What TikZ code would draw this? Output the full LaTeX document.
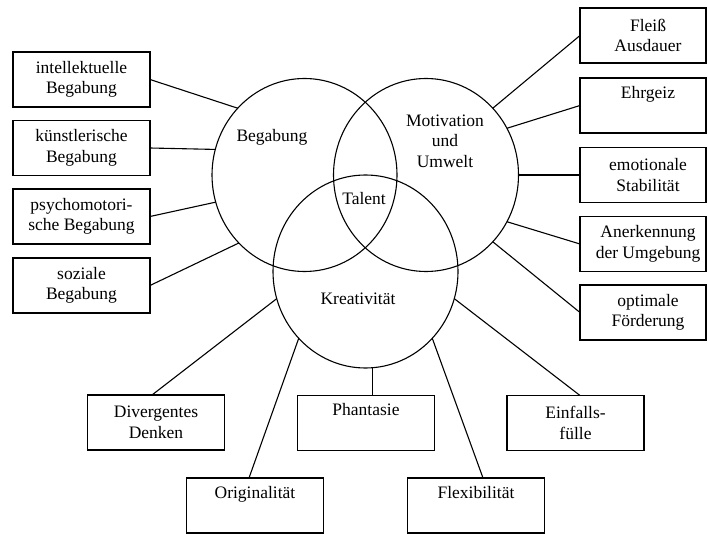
\documentclass[tikz,border=0pt]{standalone}
\usepackage{fontspec}
\setmainfont{Liberation Serif}
\usetikzlibrary{shapes.geometric}

\tikzset{
  txt/.style={font=\fontsize{17.5}{20.5}\selectfont, align=center, inner sep=0pt},
  sbox/.style={draw, line width=1.1pt, minimum width=137pt, minimum height=55pt,
               inner sep=0pt, outer sep=0pt, txt},
  rbox/.style={draw, line width=1.1pt, minimum width=126pt, minimum height=55pt,
               inner sep=0pt, outer sep=0pt},
  ring/.style={draw, line width=1.1pt, ellipse, minimum width=185pt,
               minimum height=193pt, inner sep=0pt, outer sep=0pt},
  link/.style={line width=1.1pt}
}

\begin{document}
\begin{tikzpicture}[x=1pt, y=-1pt]
  \useasboundingbox (0,0) rectangle (708,534);

  % the three overlapping circles
  \node[ring] (B) at (304.5,175) {};
  \node[ring] (M) at (426,175) {};
  \node[ring] (K) at (365.5,271.5) {};

  \node[txt] (tB) at (272,137.5) {Begabung};
  \node[txt] (tM) at (445,141) {Motivation\\und\\Umwelt};
  \node[txt] (tT) at (364,199) {Talent};
  \node[txt] (tK) at (358,299) {Kreativität};

  % left column
  \node[sbox] (intel) at (81.5,79.5)  {intellektuelle\\Begabung};
  \node[sbox] (kuen)  at (81.5,148)   {künstlerische\\Begabung};
  \node[sbox] (psy)   at (81.5,216.5) {psychomotori-\\sche Begabung};
  \node[sbox] (soz)   at (81.5,285.5) {soziale\\Begabung};

  % right column
  \node[rbox, label={[txt, xshift=5pt]center:{Fleiß\\Ausdauer}}] (fleiss) at (643,35.5) {};
  \node[rbox, label={[txt, xshift=5pt]center:{Ehrgeiz\\\strut}}] (ehr) at (643,105.5) {};
  \node[rbox, label={[txt, xshift=5pt]center:{emotionale\\Stabilität}}] (emo) at (643,175) {};
  \node[rbox, label={[txt, xshift=5pt]center:{Anerkennung\\der Umgebung}}] (anr) at (643,244) {};
  \node[rbox, label={[txt, xshift=5pt]center:{optimale\\Förderung}}] (opt) at (643,312.5) {};

  % bottom rows
  \node[sbox] (div)  at (156,422.5)   {Divergentes\\Denken};
  \node[sbox] (pha)  at (366,423)     {Phantasie\\\strut};
  \node[sbox] (einf) at (575.5,423)   {Einfalls-\\fülle};
  \node[sbox] (orig) at (255,505.5)   {Originalität\\\strut};
  \node[sbox] (flex) at (476,505.5)   {Flexibilität\\\strut};

  % connectors
  \draw[link] (intel.east) -- (B.135);
  \draw[link] (kuen.east)  -- (B.164);
  \draw[link] (psy.east)   -- (B.197);
  \draw[link] (soz.east)   -- (B.226);

  \draw[link] (M.45)  -- (fleiss.west);
  \draw[link] (M.30)  -- (ehr.west);
  \draw[link] (M.0)   -- (emo.west);
  \draw[link] (M.-30) -- (anr.west);
  \draw[link] (M.-45) -- (opt.west);

  \draw[link] (K.197) -- ([xshift=-4pt]div.north);
  \draw[link] (K.225) -- ([xshift=-6pt]orig.north);
  \draw[link] (K.-86) -- (K.-86 |- pha.north);
  \draw[link] (K.-45) -- ([xshift=7pt]flex.north);
  \draw[link] (K.-17) -- ([xshift=4.5pt]einf.north);
\end{tikzpicture}
\end{document}
